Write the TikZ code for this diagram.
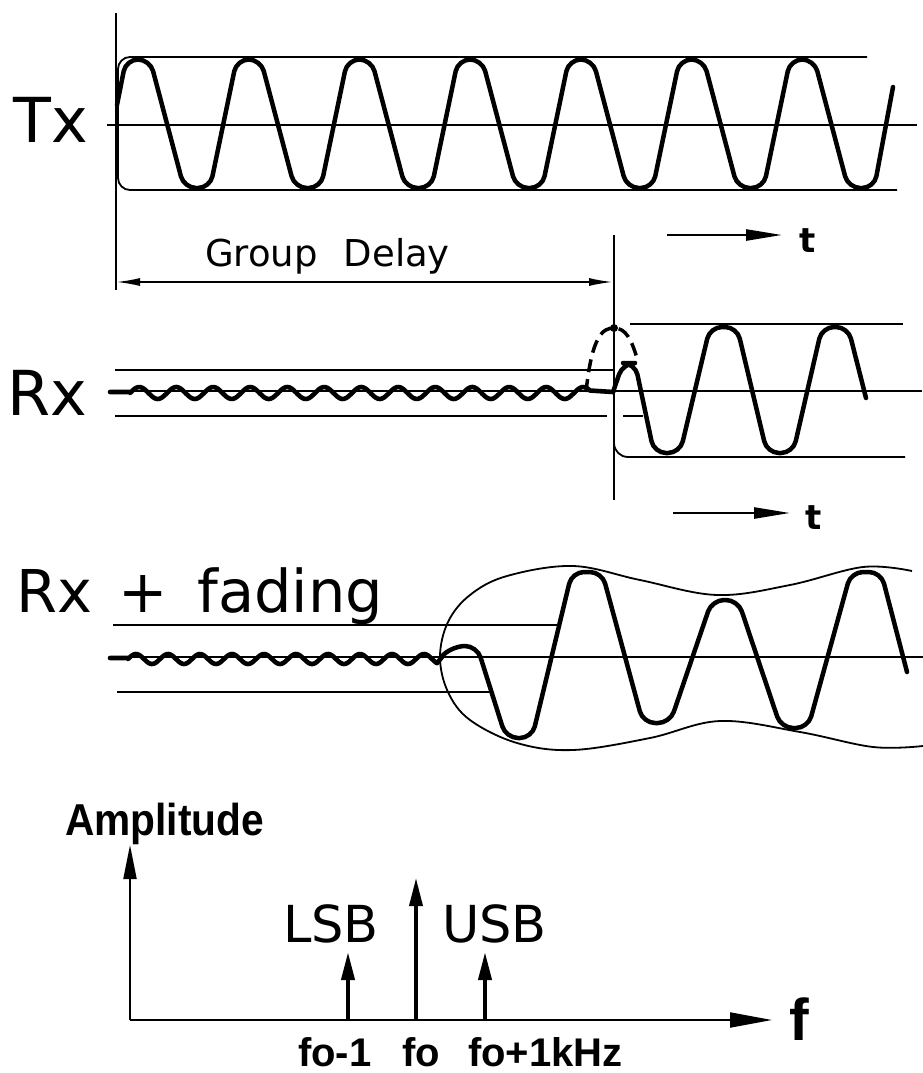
\documentclass[tikz,border=0pt]{standalone}
\usepackage{fontspec}
\setmainfont{DejaVu Sans}
\newfontfamily\lib{Liberation Sans}
\usetikzlibrary{arrows.meta}
\begin{document}
\begin{tikzpicture}[x=1pt,y=-1pt,
  thinline/.style={line width=1.8pt},
  wave/.style={line width=4.5pt, line join=round, line cap=round, rounded corners=12pt},
  ripple/.style={line width=4.6pt, line cap=round, line join=round},
  lbl/.style={inner sep=0pt, anchor=base west},
  tlbl/.style={inner sep=0pt, font=\bfseries\fontsize{34}{34}\selectfont},
  tarrow/.style={line width=2.5pt, -{Triangle[length=36pt,width=11pt]}},
  spec/.style={line width=4pt, -{Triangle[length=28pt,width=13pt]}},
  axis/.style={line width=2pt}
]
\useasboundingbox[fill=white] (0,0) rectangle (923,1073);

% ---------------- Tx ----------------
\node[lbl, font=\fontsize{62}{62}\selectfont] (tx) at (13,142) {Tx};
\draw[thinline] (116,13) -- (116,290);
\draw[thinline, rounded corners=12pt] (867,57) -- (118,57) -- (118,190) -- (897,190);
\draw[thinline] (107,125) -- (917,125);
\draw[wave] (117,105)
  \foreach \k in {0,...,6} { -- ({126+110.7*\k},59.5) -- ({150+110.7*\k},59.5) -- ({184+110.7*\k},188) -- ({210+110.7*\k},188) }
  -- (893,87);

% Group delay
\node[lbl, font=\fontsize{37}{37}\selectfont] (gd) at (205,266) {Group\hspace{0.7em}Delay};
\coordinate (gdL) at (116,282);
\coordinate (gdR) at (613,282);
\draw[thinline, {Latex[length=24pt,width=8pt]}-{Latex[length=24pt,width=8pt]}] (gdL) -- (gdR);
\draw[thinline] (614,235) -- (614,500);

\coordinate (t1s) at (667,235);
\coordinate (t1e) at (782,235);
\draw[tarrow] (t1s) -- (t1e);
\node[tlbl] (t1) at (808,241) {t};

% ---------------- Rx ----------------
\node[lbl, font=\fontsize{62}{62}\selectfont] (rx) at (7,415) {Rx};
\draw[thinline] (115,370) -- (613,370);
\draw[thinline] (110,391) -- (922,391);
\draw[thinline] (115,416) -- (607,416);
\draw[thinline] (623,416) -- (643,416);
\draw[thinline] (630,324) -- (903,324);
\draw[thinline, rounded corners=14pt] (614,430) -- (614,457) -- (905,457);
\draw[ripple] (110,392) -- (130,392) -- plot[domain=130:590, samples=220] (\x,{393-6*sin(9.7297*(\x-130))}) -- (613,392);
\draw[line width=3.5pt, dash pattern=on 13pt off 7pt] (586,392) .. controls (592,335) and (603,328) .. (614,328) .. controls (626,328) and (632,340) .. (638,362);
\fill (614,328) circle (4pt);
\draw[wave, rounded corners=12pt] (613,392) -- (623,363) -- (635,363) -- (654,453) -- (680,453) -- (710,327) -- (737,327) -- (767,453) -- (793,453) -- (822,327) -- (848,327) -- (866,398);

\coordinate (t2s) at (673,513);
\coordinate (t2e) at (790,513);
\draw[tarrow] (t2s) -- (t2e);
\node[tlbl] (t2) at (814,518) {t};

% ---------------- Rx + fading ----------------
\node[lbl, font=\fontsize{59}{59}\selectfont] (rxf) at (16,612) {Rx\hspace{0.45em}+\hspace{0.5em}fading};
\draw[thinline] (113,625) -- (560,625);
\draw[thinline] (110,657) -- (923,657);
\draw[thinline] (117,692) -- (490,692);
\draw[ripple] (110,658) -- (128,658) -- plot[domain=128:437, samples=200] (\x,{659-5*sin(11.25*(\x-128))}) -- (442,657);
\draw[thinline] plot[smooth, tension=0.6] coordinates {(912,571) (863,567) (790,585) (717,595) (640,580) (573,566) (507,576) (470,595) (448,622) (440,657) (448,692) (470,720) (517,743) (573,750) (650,738) (720,721) (800,732) (873,747) (923,746)};
\draw[wave, rounded corners=12pt] (441,657) -- (453,646) -- (477,646) -- (506,738) -- (532,738) -- (572,572) -- (602,572) -- (643,723) -- (670,723) -- (712,600) -- (738,600) -- (781,728) -- (808,728) -- (851,572) -- (881,572) -- (907,672);

% ---------------- Spectrum ----------------
\node[lbl, font=\lib\bfseries\fontsize{44.7}{45}\selectfont] (amp) at (65,835) {\scalebox{0.91}[1]{Amplitude}};
\coordinate (O) at (130,1020);
\coordinate (ytip) at (130,845);
\coordinate (xtip) at (772,1020);
\draw[axis, -{Triangle[length=34pt,width=13pt]}] (O) -- (ytip);
\draw[axis, -{Triangle[length=42pt,width=15pt]}] (O) -- (xtip);
\node[lbl, font=\lib\bfseries\fontsize{59}{59}\selectfont] (f) at (789,1040) {f};

\coordinate (lsb0) at (348,1020);
\coordinate (lsb1) at (348,952);
\coordinate (fo0) at (416,1020);
\coordinate (fo1) at (416,878);
\coordinate (usb0) at (485,1020);
\coordinate (usb1) at (485,952);
\draw[spec] (lsb0) -- (lsb1);
\draw[spec, line width=3.5pt] (fo0) -- (fo1);
\draw[spec] (usb0) -- (usb1);

\node[lbl, font=\fontsize{51}{51}\selectfont] (lsb) at (283,942) {LSB};
\node[lbl, font=\fontsize{51}{51}\selectfont] (usb) at (442,942) {USB};

\node[lbl, font=\lib\bfseries\fontsize{40}{40}\selectfont] (fm) at (298,1066) {fo-1};
\node[lbl, font=\lib\bfseries\fontsize{40}{40}\selectfont] (fc) at (402,1066) {fo};
\node[lbl, font=\lib\bfseries\fontsize{40}{40}\selectfont] (fp) at (468,1066) {fo+1kHz};
\end{tikzpicture}
\end{document}
